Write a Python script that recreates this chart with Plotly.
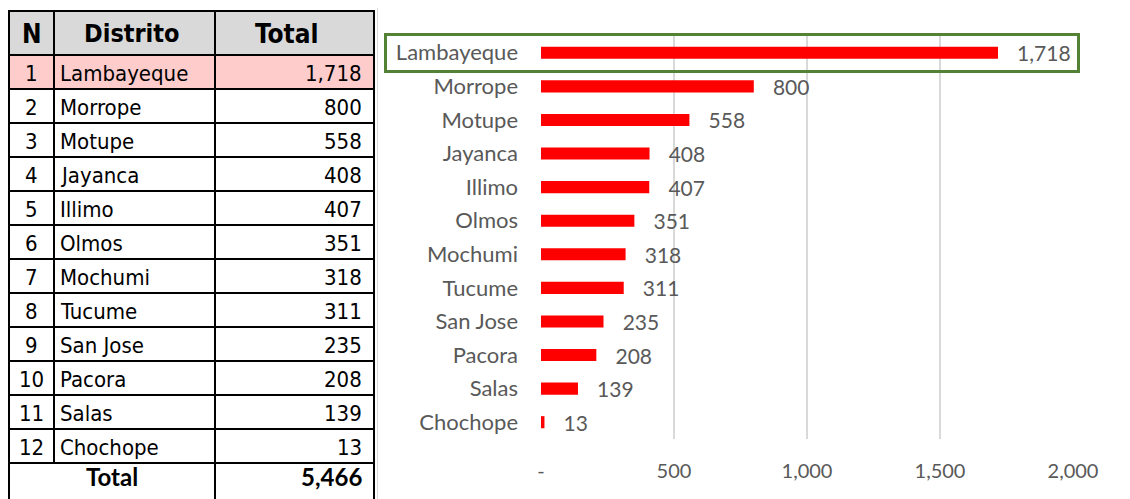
import plotly.graph_objects as go

# ---- data ----
rank = [1, 2, 3, 4, 5, 6, 7, 8, 9, 10, 11, 12]
districts = ["Lambayeque", "Morrope", "Motupe", "Jayanca", "Illimo", "Olmos",
             "Mochumi", "Tucume", "San Jose", "Pacora", "Salas", "Chochope"]
totals = [1718, 800, 558, 408, 407, 351, 318, 311, 235, 208, 139, 13]
grand_total = 5466
header = ["N", "Distrito", "Total"]
tick_vals = [0, 500, 1000, 1500, 2000]
tick_text = ["-", "500", "1,000", "1,500", "2,000"]

# ---- layout geometry (window pixels; page body has an 8px margin) ----
OFF = 8
WIN_W, WIN_H = 1130, 499
W, H = WIN_W - OFF, WIN_H - OFF
L, R, T, B = 541, 1073, 36, 439


def px(x):
    return (x - L) / (R - L)


def py(y):
    return (B - y) / (B - T)


GRAY = "#595959"
CHART_FONT = "Lato, Carlito, Calibri, sans-serif"
TABLE_FONT = "Liberation Sans Narrow, Arial Narrow, DejaVu Sans Condensed, Liberation Sans, Arial, sans-serif"

fig = go.Figure()
fig.add_trace(go.Bar(
    y=districts, x=totals, orientation="h", width=0.36,
    marker=dict(color="#FF0000", line=dict(width=0)),
    text=["\u00a0\u00a0\u00a0" + f"{v:,}" for v in totals],
    textposition="outside", constraintext="none", cliponaxis=False,
    outsidetextfont=dict(family=CHART_FONT, size=21, color=GRAY),
    hoverinfo="skip", showlegend=False,
))

shapes = []
annotations = []

# chart area border (left & top)
shapes.append(dict(type="line", xref="paper", yref="paper", x0=px(377.5), x1=px(1130), y0=py(5.5), y1=py(5.5),
                   line=dict(color="#d9d9d9", width=1)))
shapes.append(dict(type="line", xref="paper", yref="paper", x0=px(377.5), x1=px(377.5), y0=py(5.5), y1=py(499),
                   line=dict(color="#d9d9d9", width=1)))

# highlight box
shapes.append(dict(type="rect", xref="paper", yref="paper", x0=px(385.5), x1=px(1078.5), y0=py(34.5), y1=py(71.5),
                   line=dict(color="#548235", width=3), fillcolor="rgba(0,0,0,0)", layer="above"))

# ---- table ----
cx = [9, 54, 215, 374]
top, hdr_b, row_h = 11, 55, 34
n_rows = len(districts)
tot_top = hdr_b + row_h * n_rows
bottom = 499

shapes.append(dict(type="rect", xref="paper", yref="paper", x0=px(cx[0]), x1=px(cx[3]), y0=py(top), y1=py(hdr_b),
                   fillcolor="#d9d9d9", line=dict(width=0), layer="below"))
shapes.append(dict(type="rect", xref="paper", yref="paper", x0=px(cx[0]), x1=px(cx[3]), y0=py(hdr_b), y1=py(hdr_b + row_h),
                   fillcolor="#ffcccc", line=dict(width=0), layer="below"))


def hline(y, x0=cx[0], x1=cx[3]):
    shapes.append(dict(type="line", xref="paper", yref="paper", x0=px(x0), x1=px(x1), y0=py(y), y1=py(y),
                       line=dict(color="black", width=2)))


def vline(x, y0, y1):
    shapes.append(dict(type="line", xref="paper", yref="paper", x0=px(x), x1=px(x), y0=py(y0), y1=py(y1),
                       line=dict(color="black", width=2)))


hline(top, cx[0] - 1, cx[3] + 1)
for i in range(n_rows + 1):
    hline(hdr_b + row_h * i)
vline(cx[0], top, bottom)
vline(cx[3], top, bottom)
vline(cx[1], top, tot_top)
vline(cx[2], top, bottom)


def txt(x, y, s, anchor, size, bold=False, family=TABLE_FONT):
    annotations.append(dict(xref="paper", yref="paper", x=px(x), y=py(y), text=f"<b>{s}</b>" if bold else s,
                            showarrow=False, xanchor=anchor, yanchor="middle",
                            font=dict(family=family, size=size, color="black")))


hy = (top + hdr_b) / 2 + 1
txt(31.5, hy, header[0], "center", 26, True)
txt(132, hy, header[1], "center", 25, True)
txt(287, hy, header[2], "center", 26, True)
for i, (n, d, v) in enumerate(zip(rank, districts, totals)):
    yc = hdr_b + row_h * i + row_h / 2 + 1
    txt(31.5, yc, str(n), "center", 22)
    txt(58, yc, d, "left", 22)
    txt(364, yc, f"{v:,}", "right", 22)
ty = 476
txt(112, ty, "Total", "center", 24, True, CHART_FONT)
txt(364, ty, f"{grand_total:,}", "right", 24, True, CHART_FONT)

fig.update_layout(
    width=W, height=H,
    margin=dict(l=L - OFF, r=W - (R - OFF), t=T - OFF, b=H - (B - OFF), pad=0, autoexpand=False),
    paper_bgcolor="white", plot_bgcolor="white",
    shapes=shapes, annotations=annotations,
    uniformtext=dict(mode=False),
    xaxis=dict(range=[0, 2000], tickvals=tick_vals, ticktext=tick_text, automargin=False,
               showgrid=True, gridcolor="#d9d9d9", gridwidth=1.5, zeroline=False,
               showline=False, ticks="", ticklabelstandoff=18,
               tickfont=dict(family=CHART_FONT, size=20, color=GRAY), fixedrange=True),
    yaxis=dict(autorange="reversed", showgrid=False, zeroline=False, showline=False, ticks="", automargin=False,
               ticklabelstandoff=22, tickfont=dict(family=CHART_FONT, size=22, color=GRAY), fixedrange=True),
)
fig.write_html("out.html")
